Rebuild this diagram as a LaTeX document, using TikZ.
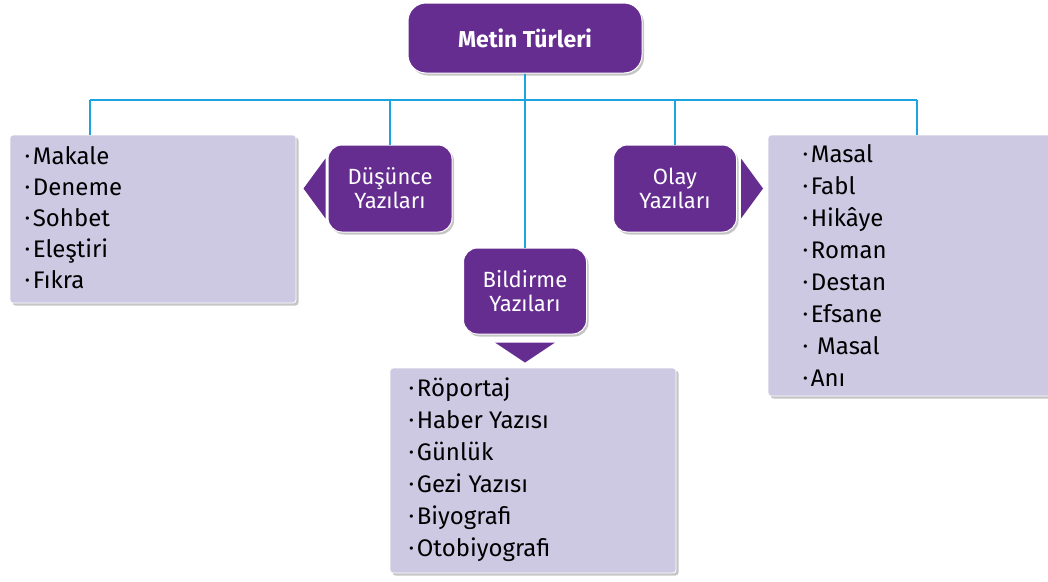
\documentclass[tikz,border=0pt]{standalone}
\usepackage{fontspec}
\setmainfont{Fira Sans}
\usetikzlibrary{positioning,shadows}

\definecolor{mor}{HTML}{662D91}
\definecolor{lila}{HTML}{CDC9E3}
\definecolor{hat}{HTML}{1BA4E0}
\newcommand{\mad}{\raisebox{0.22ex}{\scalebox{0.6}{\textbullet}}\kern3pt}

\begin{document}
\begin{tikzpicture}[x=1pt,y=-1pt,
	baslik/.style={rounded corners=14pt,fill=mor,draw=white,line width=1pt,text=white,align=center,
		drop shadow={shadow xshift=2pt,shadow yshift=-2.5pt,fill=black!45},font=\fontsize{22}{24}\selectfont},
	kutu/.style={rounded corners=3pt,fill=lila,draw=white,line width=0.8pt,
		drop shadow={shadow xshift=2.5pt,shadow yshift=-2.5pt,fill=black!45}},
	liste/.style={inner sep=0pt,align=left,anchor=west,font=\fontsize{24}{#1}\selectfont},
	ok/.style={fill=mor},
	bag/.style={draw=hat,line width=1.6pt}]
	\useasboundingbox (0,0) rectangle (1048,581);
	% ana baslik
	\node [baslik,rounded corners=18pt,minimum width=234pt,minimum height=70pt,font=\fontsize{23}{24}\selectfont\bfseries] at (525,38) (ana) {Metin Türleri};
	% alt basliklar
	\node [baslik,minimum width=124pt,minimum height=87pt] at (390,188.5) (dus) {Düşünce\\Yazıları};
	\node [baslik,minimum width=123pt,minimum height=86pt] at (525,291) (bil) {Bildirme\\Yazıları};
	\node [baslik,minimum width=123pt,minimum height=87pt] at (675,188.5) (olay) {Olay\\Yazıları};
	% ok uclari
	\fill [ok] (dus.west) ++(-2,-30) -- ++(-22,30) -- ++(22,30) -- cycle;
	\fill [ok] (bil.south) ++(-30,8) -- ++(60,0) -- ++(-30,20) -- cycle;
	\fill [ok] (olay.east) ++(4,-30) -- ++(22,30) -- ++(-22,30) -- cycle;
	% listeler
	\node [kutu,minimum width=286pt,minimum height=168pt] at (153,219) (sol) {};
	\node [kutu,minimum width=286pt,minimum height=205pt] at (533,470.5) (alt) {};
	\node [kutu,minimum width=284pt,minimum height=261pt] at (910,265.5) (sag) {};
	\node [liste=31] at (25,217.5) (solyazi) {\mad Makale\\\mad Deneme\\\mad Sohbet\\\mad Eleştiri\\\mad Fıkra};
	\node [liste=32] at (409,469.5) (altyazi) {\mad Röportaj\\\mad Haber Yazısı\\\mad Günlük\\\mad Gezi Yazısı\\\mad Biyografi\\\mad Otobiyografi};
	\node [liste=32] at (803,265) (sagyazi) {\mad Masal\\\mad Fabl\\\mad Hikâye\\\mad Roman\\\mad Destan\\\mad Efsane\\\mad\ Masal\\\mad Anı};
	% baglantilar
	\coordinate (hsol) at (90,100);
	\coordinate (hsag) at (917,100);
	\draw [bag] (hsol) -- (hsag);
	\draw [bag] (ana.south) -- (bil.north);
	\draw [bag] (hsol) -- (hsol |- sol.north);
	\draw [bag] (dus.north |- hsol) -- (dus.north);
	\draw [bag] (olay.north |- hsol) -- (olay.north);
	\draw [bag] (hsag) -- (hsag |- sag.north);
\end{tikzpicture}
\end{document}
